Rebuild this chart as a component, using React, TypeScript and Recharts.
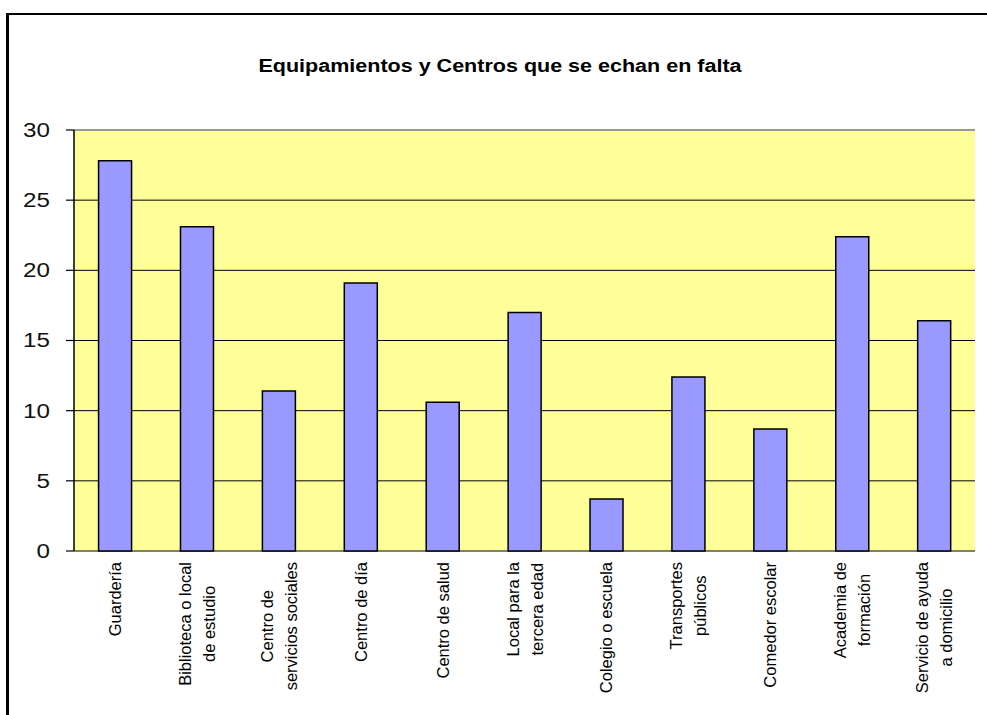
import React from "react";
import { BarChart, Bar, XAxis, YAxis, CartesianGrid, ReferenceLine } from "recharts";

const title = "Equipamientos y Centros que se echan en falta";

const categories = [
  "Guardería",
  "Biblioteca o local\nde estudio",
  "Centro de\nservicios sociales",
  "Centro de día",
  "Centro de salud",
  "Local para la\ntercera edad",
  "Colegio o escuela",
  "Transportes\npúblicos",
  "Comedor escolar",
  "Academia de\nformación",
  "Servicio de ayuda\na domicilio",
];

const values = [27.8, 23.1, 11.4, 19.1, 10.6, 17.0, 3.7, 12.4, 8.7, 22.4, 16.4];

const yTicks = [0, 5, 10, 15, 20, 25, 30];

// category boundaries for the tick marks under the x axis (0..n)
const edgeTicks = [...categories.map((_, i) => i), categories.length];

const data = categories.map((name, i) => ({ name, value: values[i] }));

const W = 987;
const H = 715;
const FONT = "'Liberation Sans', Arial, sans-serif";
const LABEL_SIZE = 16.5;
const LINE_H = 24;

let ctx: CanvasRenderingContext2D | null = null;
const measure = (s: string) => {
  if (!ctx) {
    ctx = document.createElement("canvas").getContext("2d");
  }
  if (!ctx) return s.length * LABEL_SIZE * 0.5;
  ctx.font = `${LABEL_SIZE}px 'Liberation Sans'`;
  return ctx.measureText(s).width;
};

const XTick = (props: any) => {
  const { x, y, payload } = props;
  const lines = String(payload.value).split("\n");
  const maxW = Math.max(...lines.map(measure));
  const cy = y + maxW / 2;
  return (
    <g>
      {lines.map((ln, i) => (
        <text
          key={i}
          x={0}
          y={0}
          transform={`translate(${x + (i - (lines.length - 1) / 2) * LINE_H},${cy}) rotate(-90)`}
          textAnchor="middle"
          dominantBaseline="central"
          fontFamily={FONT}
          fontSize={LABEL_SIZE}
          fill="#000"
        >
          {ln}
        </text>
      ))}
    </g>
  );
};

const YTick = (props: any) => {
  const { x, y, payload } = props;
  return (
    <text
      x={0}
      y={0}
      transform={`translate(${x},${y}) scale(1.18,1)`}
      textAnchor="end"
      dominantBaseline="central"
      fontFamily={FONT}
      fontSize={20.5}
      fill="#111"
    >
      {payload.value}
    </text>
  );
};

export default function App() {
  return (
    <div
      style={{
        position: "absolute",
        left: 0,
        top: 0,
        width: W,
        height: H,
        overflow: "hidden",
        background: "#fff",
      }}
    >
      {/* outer frame, only top and left edges visible */}
      <div
        style={{
          position: "absolute",
          left: 6,
          top: 13,
          width: W + 20,
          height: H + 20,
          borderTop: "2px solid #000",
          borderLeft: "3px solid #000",
        }}
      />
      <svg
        width={W}
        height={110}
        style={{ position: "absolute", left: 0, top: 0 }}
      >
        <text
          x={0}
          y={0}
          transform="translate(500,72) scale(1.23,1)"
          textAnchor="middle"
          fontFamily={FONT}
          fontWeight="bold"
          fontSize={17.5}
          fill="#000"
        >
          {title}
        </text>
      </svg>
      <div style={{ position: "absolute", left: 0, top: 0 }}>
        <BarChart
          width={W}
          height={H}
          data={data}
          margin={{ top: 130, right: 12, left: 14, bottom: 14 }}
          barCategoryGap="30%"
        >
          <CartesianGrid
            vertical={false}
            stroke="#000"
            strokeWidth={1}
            fill="#FFFF99"
            fillOpacity={1}
            xAxisId="cat"
          />
          <Bar
            dataKey="value"
            xAxisId="cat"
            fill="#9999FF"
            stroke="#000"
            strokeWidth={1.5}
            isAnimationActive={false}
          />
          <XAxis
            xAxisId="edges"
            type="number"
            domain={[0, categories.length]}
            ticks={edgeTicks}
            tick={false}
            tickSize={5}
            height={0}
            axisLine={{ stroke: "#000", strokeWidth: 1.5 }}
            tickLine={{ stroke: "#000", strokeWidth: 1.2 }}
          />
          <XAxis
            xAxisId="cat"
            dataKey="name"
            interval={0}
            height={150}
            axisLine={false}
            tickLine={false}
            tickSize={0}
            tickMargin={11}
            tick={<XTick />}
          />
          <YAxis
            domain={[0, 30]}
            ticks={yTicks}
            width={60}
            tickSize={8}
            tickMargin={16}
            axisLine={{ stroke: "#000", strokeWidth: 1.5 }}
            tickLine={{ stroke: "#000", strokeWidth: 1.2 }}
            tick={<YTick />}
          />
          <ReferenceLine y={30} xAxisId="cat" stroke="#9a9a9a" strokeWidth={2} />
          <ReferenceLine x={categories.length} xAxisId="edges" stroke="#9a9a9a" strokeWidth={2} />
        </BarChart>
      </div>
    </div>
  );
}
